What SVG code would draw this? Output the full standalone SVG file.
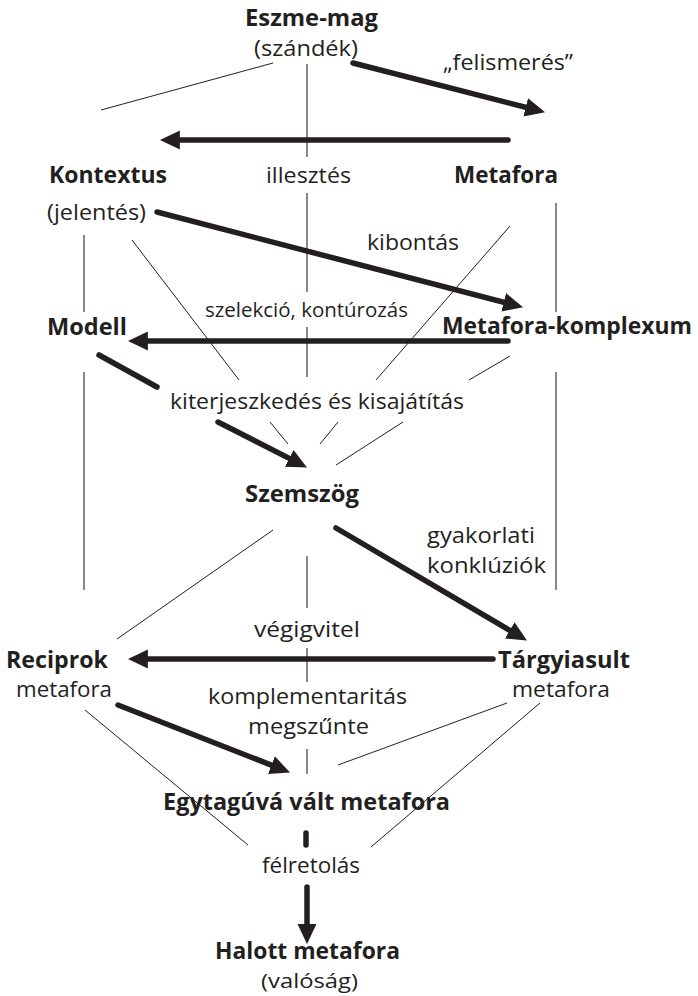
<svg xmlns="http://www.w3.org/2000/svg" width="698" height="996" viewBox="0 0 698 996">
<defs>
<style>
text{font-family:"Open Sans","Noto Sans","Liberation Sans",sans-serif;fill:#231f20}
.b{font-weight:700;font-size:23px}
.r{font-weight:400;font-size:22px}
.r2{font-weight:400;font-size:21px}
.r3{font-weight:400;font-size:20px}
.s{font-weight:400;font-size:20px}
.thin{stroke:#231f20;stroke-width:1;fill:none}
.vert{stroke:#4a4a4a;stroke-width:1.3;fill:none}
.bold{stroke:#231f20;stroke-width:5.5;stroke-linecap:round;fill:none}
.arr{stroke:#231f20;stroke-width:5.5;stroke-linecap:round;fill:none;marker-end:url(#ah)}
</style>
<marker id="ah" markerUnits="userSpaceOnUse" markerWidth="20" markerHeight="20" viewBox="0 -9 18 18" refX="8" refY="0" orient="auto">
<path d="M0,-8.5 L18,0 L0,8.5 z" fill="#231f20"/>
</marker>
</defs>
<rect width="698" height="996" fill="#fff"/>
<g id="connectors">
<path class="vert" d="M307,64V157M307,193V292M307,327V377M307,556V608M307,648V682M307,749V774"/>
<path class="vert" d="M84,235V312M84,372V590"/>
<path class="vert" d="M556,203V312M556,372V590"/>
<path class="thin" d="M273,63L101,110"/>
<path class="thin" d="M132,240L239,380"/>
<path class="thin" d="M510,226L376,380"/>
<path class="thin" d="M510,356L469,380"/>
<path class="thin" d="M270,422L288,444"/>
<path class="thin" d="M338,422L320,444"/>
<path class="thin" d="M403,422L336,465"/>
<path class="thin" d="M273,530L117,639"/>
<path class="thin" d="M85,710L248,845"/>
<path class="thin" d="M507,703L338,765"/>
<path class="thin" d="M540,703L371,847"/>
<path class="arr" d="M353,63L534.3,109.5"/>
<path class="arr" d="M508,140L171,140"/>
<path class="arr" d="M157,212L512.3,304.5"/>
<path class="arr" d="M508,341L139,341"/>
<path class="bold" d="M99,355L157,387"/>
<path class="arr" d="M218,422L297.1,462.4"/>
<path class="arr" d="M336,528L517.4,634.9"/>
<path class="arr" d="M493,659L139,659"/>
<path class="arr" d="M118,705L279.7,768.4"/>
<path class="bold" d="M306,833V845"/>
<path class="arr" d="M307,887L307,933"/>
</g>
<g id="labels">
<text class="r" x="443" y="70" textLength="130" lengthAdjust="spacingAndGlyphs">„felismerés”</text>
<text class="r" x="266" y="183" textLength="85" lengthAdjust="spacingAndGlyphs">illesztés</text>
<text class="r" x="367" y="250" textLength="92" lengthAdjust="spacingAndGlyphs">kibontás</text>
<text class="s" x="205" y="317" textLength="203" lengthAdjust="spacingAndGlyphs">szelekció, kontúrozás</text>
<text class="r" x="170" y="409" textLength="294" lengthAdjust="spacingAndGlyphs">kiterjeszkedés és kisajátítás</text>
<text class="r" x="427" y="543" textLength="108" lengthAdjust="spacingAndGlyphs">gyakorlati</text>
<text class="r" x="427" y="573" textLength="119" lengthAdjust="spacingAndGlyphs">konklúziók</text>
<text class="r" x="254" y="637" textLength="106" lengthAdjust="spacingAndGlyphs">végigvitel</text>
<text class="r" x="208" y="704" textLength="199" lengthAdjust="spacingAndGlyphs">komplementaritás</text>
<text class="r" x="248" y="734" textLength="121" lengthAdjust="spacingAndGlyphs">megszűnte</text>
<text class="r" x="262" y="873" textLength="98" lengthAdjust="spacingAndGlyphs">félretolás</text>
</g>
<g id="eszme-mag">
<text class="b" x="245" y="26" textLength="133" lengthAdjust="spacingAndGlyphs">Eszme-mag</text>
<text class="r2" x="254" y="56" textLength="104" lengthAdjust="spacingAndGlyphs">(szándék)</text>
</g>
<g id="kontextus">
<text class="b" x="49" y="183" textLength="118" lengthAdjust="spacingAndGlyphs">Kontextus</text>
<text class="r" x="47" y="220" textLength="99" lengthAdjust="spacingAndGlyphs">(jelentés)</text>
</g>
<g id="metafora">
<text class="b" x="454" y="183" textLength="104" lengthAdjust="spacingAndGlyphs">Metafora</text>
</g>
<g id="modell">
<text class="b" x="47" y="335" textLength="80" lengthAdjust="spacingAndGlyphs">Modell</text>
</g>
<g id="metafora-komplexum">
<text class="b" x="442" y="334" textLength="250" lengthAdjust="spacingAndGlyphs">Metafora-komplexum</text>
</g>
<g id="szemszog">
<text class="b" x="245" y="502" textLength="114" lengthAdjust="spacingAndGlyphs">Szemszög</text>
</g>
<g id="reciprok">
<text class="b" x="6" y="668" textLength="102" lengthAdjust="spacingAndGlyphs">Reciprok</text>
<text class="r" x="16" y="697" textLength="96" lengthAdjust="spacingAndGlyphs">metafora</text>
</g>
<g id="targyiasult">
<text class="b" x="498" y="668" textLength="132" lengthAdjust="spacingAndGlyphs">Tárgyiasult</text>
<text class="r" x="512" y="697" textLength="98" lengthAdjust="spacingAndGlyphs">metafora</text>
</g>
<g id="egytaguva">
<text class="b" x="163" y="810" textLength="287" lengthAdjust="spacingAndGlyphs">Egytagúvá vált metafora</text>
</g>
<g id="halott">
<text class="b" x="215" y="959" textLength="185" lengthAdjust="spacingAndGlyphs">Halott metafora</text>
<text class="r3" x="261" y="988" textLength="97" lengthAdjust="spacingAndGlyphs">(valóság)</text>
</g>
</svg>
